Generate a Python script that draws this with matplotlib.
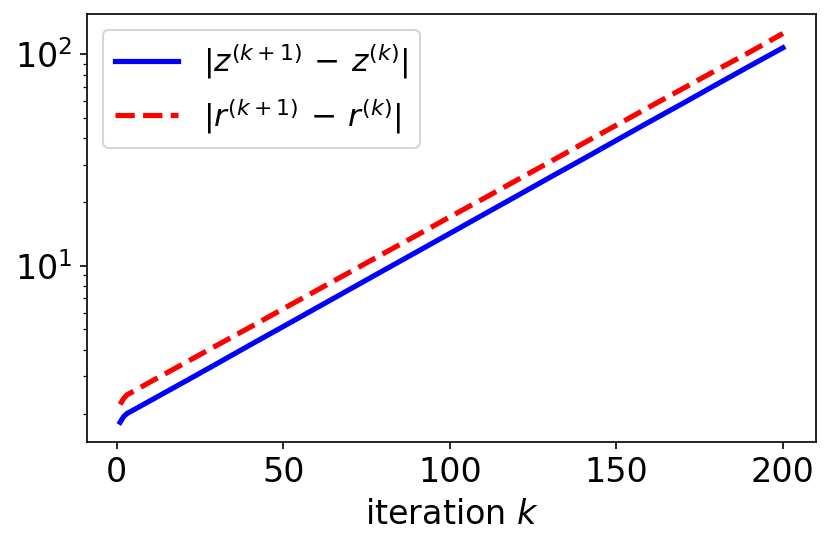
import numpy as np
import matplotlib
matplotlib.use("Agg")
import matplotlib.pyplot as plt

# values
k = [1, 2, 3, 5, 10, 20, 30, 40, 50, 60, 70, 80, 90, 100,
     110, 120, 130, 140, 150, 160, 170, 180, 190, 200]
z_diff = [1.82, 1.93, 2.00, 2.08, 2.30, 2.81, 3.44, 4.22, 5.16, 6.32, 7.74, 9.48,
          11.6, 14.2, 17.4, 21.3, 26.1, 31.9, 39.1, 47.9, 58.5, 71.7, 87.7, 107.0]
r_diff = [2.21, 2.35, 2.45, 2.55, 2.82, 3.44, 4.20, 5.12, 6.26, 7.64, 9.33, 11.4,
          13.9, 17.0, 20.7, 25.3, 30.9, 37.8, 46.1, 56.3, 68.7, 83.9, 102.0, 125.0]


def main():
    plt.rcParams['font.size'] = 16
    fig = plt.figure(figsize=(831 / 150, 540 / 150), dpi=150)
    ax = fig.add_axes([0.1047, 0.182, 0.8773, 0.792])

    ax.semilogy(k, z_diff, 'b-', lw=2.5, label=r'$|z^{(k+1)} \,-\, z^{(k)}|$')
    ax.semilogy(k, r_diff, 'r--', lw=2.5, label=r'$|r^{(k+1)} \,-\, r^{(k)}|$')

    ax.set_xlabel(r'iteration $k$')
    ax.legend(loc='upper left', fontsize=15)

    fig.savefig("out.png", dpi=150)


if __name__ == '__main__':
    main()
